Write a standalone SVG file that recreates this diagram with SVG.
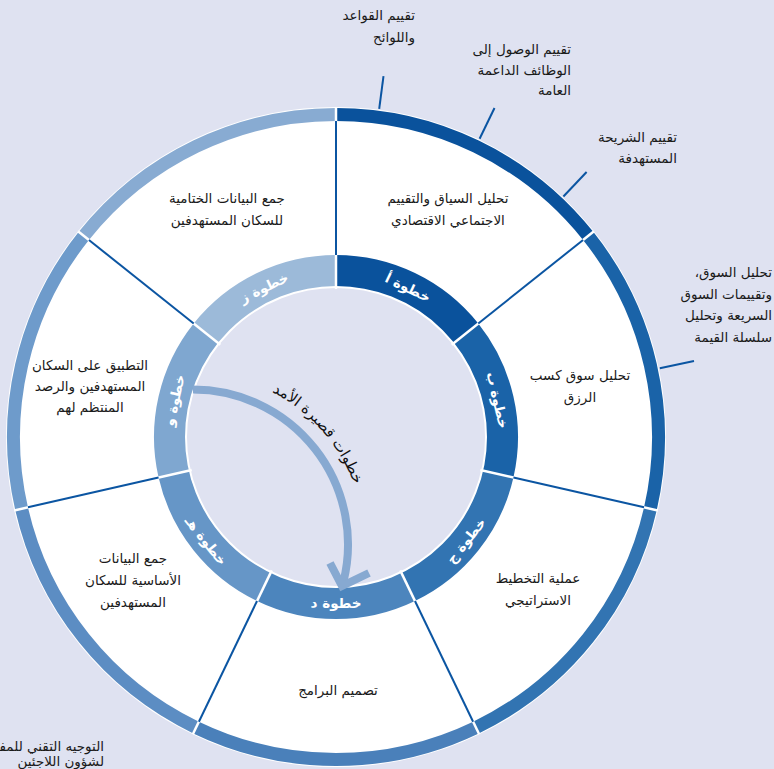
<svg xmlns="http://www.w3.org/2000/svg" width="774" height="769" viewBox="0 0 774 769">
<style>
.lbl{font-family:"DejaVu Sans",sans-serif;font-size:13.5px;fill:#1a1a1a;text-anchor:middle;direction:rtl}
.out{font-family:"DejaVu Sans",sans-serif;font-size:13.5px;fill:#1a1a1a;text-anchor:start;direction:rtl}
.step{font-family:"DejaVu Sans",sans-serif;font-size:13.5px;font-weight:bold;fill:#fff;text-anchor:middle;direction:rtl}
.band{fill:none;stroke-width:32}
.rim{fill:none;stroke-width:13}
.sep{stroke:#fff;stroke-width:2.5}
.div{stroke:#0b55a2;stroke-width:2}
.tick{stroke:#0b55a2;stroke-width:2}
</style>
<rect width="774" height="769" fill="#dfe2f1"/>
<circle cx="336" cy="437" r="330" fill="#fff"/>
<g id="step-a">
<path class="rim" stroke="#0a529c" d="M336 114.5A322.5 322.5 0 0 1 588.14 235.92"/>
<path class="band" stroke="#0a529c" d="M336 271A166 166 0 0 1 465.78 333.5"/>
<text class="lbl" x="448" y="203">تحليل السياق والتقييم</text>
<text class="lbl" x="448" y="225">الاجتماعي الاقتصادي</text>
</g>
<g id="step-b">
<path class="rim" stroke="#1a63a8" d="M588.14 235.92A322.5 322.5 0 0 1 650.41 508.76"/>
<path class="band" stroke="#1a63a8" d="M465.78 333.5A166 166 0 0 1 497.84 473.94"/>
<text class="lbl" x="580" y="380">تحليل سوق كسب</text>
<text class="lbl" x="580" y="402">الرزق</text>
</g>
<g id="step-c">
<path class="rim" stroke="#3274b2" d="M650.41 508.76A322.5 322.5 0 0 1 475.93 727.56"/>
<path class="band" stroke="#3274b2" d="M497.84 473.94A166 166 0 0 1 408.03 586.56"/>
<text class="lbl" x="538" y="583">عملية التخطيط</text>
<text class="lbl" x="538" y="605">الاستراتيجي</text>
</g>
<g id="step-d">
<path class="rim" stroke="#4a80ba" d="M475.93 727.56A322.5 322.5 0 0 1 196.07 727.56"/>
<path class="band" stroke="#4c85bd" d="M408.03 586.56A166 166 0 0 1 263.97 586.56"/>
<text class="lbl" x="338" y="695">تصميم البرامج</text>
</g>
<g id="step-e">
<path class="rim" stroke="#5c8dc3" d="M196.07 727.56A322.5 322.5 0 0 1 21.59 508.76"/>
<path class="band" stroke="#6696c7" d="M263.97 586.56A166 166 0 0 1 174.16 473.94"/>
<text class="lbl" x="133" y="563">جمع البيانات</text>
<text class="lbl" x="133" y="585">الأساسية للسكان</text>
<text class="lbl" x="133" y="607">المستهدفين</text>
</g>
<g id="step-f">
<path class="rim" stroke="#6e9bcb" d="M21.59 508.76A322.5 322.5 0 0 1 83.86 235.92"/>
<path class="band" stroke="#7fa7d0" d="M174.16 473.94A166 166 0 0 1 206.22 333.5"/>
<text class="lbl" x="90" y="370">التطبيق على السكان</text>
<text class="lbl" x="90" y="391">المستهدفين والرصد</text>
<text class="lbl" x="90" y="412">المنتظم لهم</text>
</g>
<g id="step-g">
<path class="rim" stroke="#88abd2" d="M83.86 235.92A322.5 322.5 0 0 1 336 114.5"/>
<path class="band" stroke="#9cbad9" d="M206.22 333.5A166 166 0 0 1 336 271"/>
<text class="lbl" x="227" y="203">جمع البيانات الختامية</text>
<text class="lbl" x="227" y="225">للسكان المستهدفين</text>
</g>
<circle id="core" cx="336" cy="437" r="150" fill="#dfe2f1" stroke="#fff" stroke-width="2"/>
<g id="separators">
<line class="sep" x1="336" y1="289" x2="336" y2="107"/>
<line class="sep" x1="451.71" y1="344.72" x2="594" y2="231.25"/>
<line class="sep" x1="480.29" y1="469.93" x2="657.73" y2="510.43"/>
<line class="sep" x1="400.22" y1="570.34" x2="479.18" y2="734.32"/>
<line class="sep" x1="271.78" y1="570.34" x2="192.82" y2="734.32"/>
<line class="sep" x1="191.71" y1="469.93" x2="14.27" y2="510.43"/>
<line class="sep" x1="220.29" y1="344.72" x2="78" y2="231.25"/>
<line class="div" x1="336" y1="255" x2="336" y2="121"/>
<line class="div" x1="478.29" y1="323.53" x2="583.06" y2="239.98"/>
<line class="div" x1="513.44" y1="477.5" x2="644.08" y2="507.32"/>
<line class="div" x1="414.97" y1="600.98" x2="473.11" y2="721.71"/>
<line class="div" x1="257.03" y1="600.98" x2="198.89" y2="721.71"/>
<line class="div" x1="158.56" y1="477.5" x2="27.92" y2="507.32"/>
<line class="div" x1="193.71" y1="323.53" x2="88.94" y2="239.98"/>
</g>
<g id="step-labels">
<text class="step" transform="translate(408 287.4) rotate(25.71)" y="5">خطوة أ</text>
<text class="step" transform="translate(497.8 400.1) rotate(77.14)" y="5">خطوة ب</text>
<text class="step" transform="translate(465.8 540.5) rotate(-51.43)" y="5">خطوة ج</text>
<text class="step" transform="translate(336 603)" y="5">خطوة د</text>
<text class="step" transform="translate(206.2 540.5) rotate(51.43)" y="5">خطوة هـ</text>
<text class="step" transform="translate(174.2 400.1) rotate(-77.14)" y="5">خطوة و</text>
<text class="step" transform="translate(264 287.4) rotate(-25.71)" y="5">خطوة ز</text>
</g>
<g id="outer-labels">
<text class="out" x="415" y="20">تقييم القواعد</text>
<text class="out" x="415" y="42">واللوائح</text>
<text class="out" x="571" y="54">تقييم الوصول إلى</text>
<text class="out" x="571" y="75">الوظائف الداعمة</text>
<text class="out" x="571" y="95">العامة</text>
<text class="out" x="677" y="142">تقييم الشريحة</text>
<text class="out" x="677" y="163">المستهدفة</text>
<text class="out" x="772" y="277">تحليل السوق،</text>
<text class="out" x="772" y="299">وتقييمات السوق</text>
<text class="out" x="772" y="320">السريعة وتحليل</text>
<text class="out" x="772" y="342">سلسلة القيمة</text>
<text class="out" x="104" y="751" font-size="12.3">التوجيه التقني للمفـ</text>
<text class="out" x="104" y="766">لشؤون اللاجئين</text>
</g>
<g id="connectors">
<line class="tick" x1="379.2" y1="108.8" x2="383.5" y2="76.1"/>
<line class="tick" x1="479.6" y1="138.7" x2="494.5" y2="108"/>
<line class="tick" x1="563.4" y1="196.5" x2="586.6" y2="172"/>
<line class="tick" x1="659.8" y1="368.2" x2="694" y2="361"/>
<path d="M193 389.5A155 155 0 0 1 343.4 582" fill="none" stroke="#87a9d1" stroke-width="8"/>
<polyline points="330,563 342,586 369,573" fill="none" stroke="#87a9d1" stroke-width="8"/>
</g>
<path id="tp" d="M213.96 373.78A172 172 0 0 1 365 544.5" fill="none"/>
<text id="arrow-label" font-family="DejaVu Sans, sans-serif" font-size="15" fill="#111" text-anchor="middle"><textPath href="#tp" startOffset="50%">خطوات قصيرة الأمد</textPath></text>
</svg>
